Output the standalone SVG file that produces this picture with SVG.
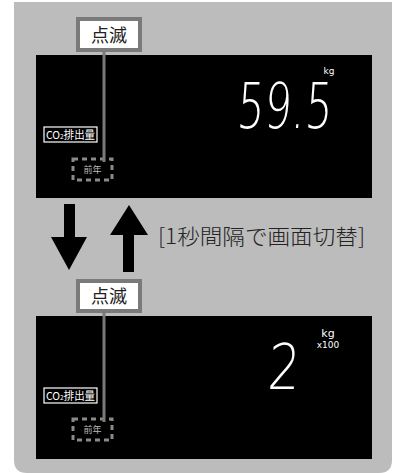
<svg xmlns="http://www.w3.org/2000/svg" width="400" height="473" viewBox="0 0 400 473">
<style>
.jp{font-family:"Noto Sans CJK JP","Noto Sans",sans-serif}
.lbl{fill:#fff;stroke:#7a7a7a;stroke-width:4}
.lbltxt{font-size:18px;fill:#222;text-anchor:middle}
.panel{fill:#000}
.lead{stroke:#7a7a7a;stroke-width:3;fill:none}
.dash{fill:none;stroke:#8a8a8a;stroke-width:3;stroke-dasharray:5 4}
.co2{fill:none;stroke:#fff;stroke-width:1.2}
.co2t{font-size:11px;fill:#fff}
.prev{font-size:9px;fill:#bbb;text-anchor:middle}
.seg{font-family:"DejaVu Sans",sans-serif;font-weight:200;font-size:63px;fill:#fff}
.unit{font-family:"DejaVu Sans",sans-serif;font-size:9px;fill:#fff;text-anchor:middle}
.unitL{font-family:"DejaVu Sans",sans-serif;font-size:11px;fill:#fff;text-anchor:middle}
.arrow{fill:#000}
</style>
<path d="M14 2 H392 V460 Q392 473 379 473 H27 Q14 473 14 460 Z" fill="#bcbcbc"/>
<g id="panel-top">
<rect class="panel" x="36" y="55" width="336" height="143"/>
<rect class="co2" x="44" y="127" width="53" height="15"/>
<text class="jp co2t" x="46" y="139" textLength="49" lengthAdjust="spacingAndGlyphs">CO<tspan font-size="7">2</tspan>排出量</text>
<rect class="dash" x="73" y="159" width="39" height="21"/>
<text class="jp prev" x="92.5" y="173">前年</text>
<text class="seg" x="236" y="128" textLength="95" lengthAdjust="spacingAndGlyphs" transform="skewX(-4) translate(9 0)">59.5</text>
<text class="unit" x="329" y="74">kg</text>
</g>
<g id="panel-bottom">
<rect class="panel" x="36" y="316" width="336" height="143"/>
<rect class="co2" x="44" y="388" width="53" height="15"/>
<text class="jp co2t" x="46" y="400" textLength="49" lengthAdjust="spacingAndGlyphs">CO<tspan font-size="7">2</tspan>排出量</text>
<rect class="dash" x="73" y="419" width="39" height="21"/>
<text class="jp prev" x="92.5" y="433">前年</text>
<text class="seg" x="268" y="389" textLength="32" lengthAdjust="spacingAndGlyphs" transform="skewX(-4) translate(26 0)">2</text>
<text class="unitL" x="328" y="337">kg</text>
<text class="unit" x="328" y="348">x100</text>
</g>
<g id="connectors">
<line class="lead" x1="104" y1="51" x2="104" y2="162"/>
<line class="lead" x1="104" y1="312" x2="104" y2="422"/>
<path class="arrow" d="M64 204 H75 V237 H87 L69 270 L51 237 H64 Z"/>
<path class="arrow" d="M129 205 L148 235 H134 V272 H123 V235 H110 Z"/>
</g>
<g id="label-top">
<rect class="lbl" x="78" y="19" width="62" height="31"/>
<text class="jp lbltxt" x="109" y="42">点滅</text>
</g>
<g id="label-bottom">
<rect class="lbl" x="78" y="281" width="62" height="30"/>
<text class="jp lbltxt" x="109" y="303">点滅</text>
</g>
<g id="caption">
<text class="jp" x="158" y="244" font-size="21" font-weight="300" fill="#222" textLength="207" lengthAdjust="spacingAndGlyphs">[1秒間隔で画面切替]</text>
</g>
</svg>
